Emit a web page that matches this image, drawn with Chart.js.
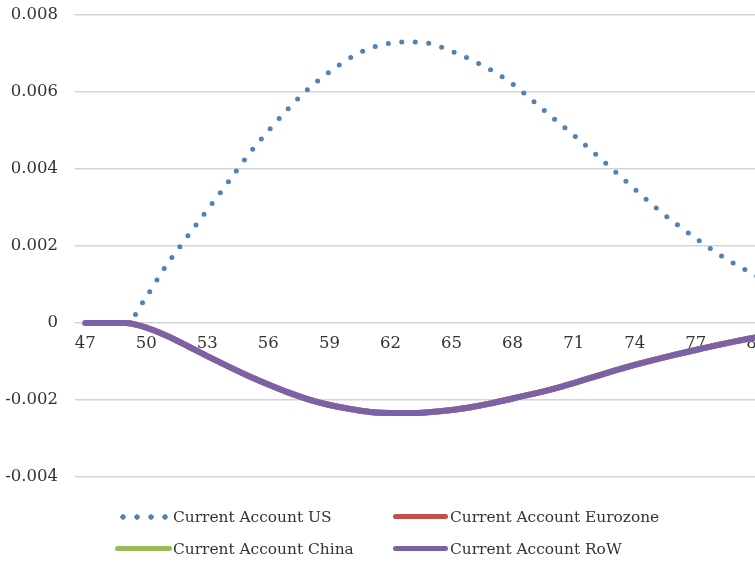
<!DOCTYPE html>
<html>
<head>
<meta charset="utf-8">
<script src="https://cdn.jsdelivr.net/npm/chart.js@4/dist/chart.umd.min.js"></script>
<style>
    html, body { margin: 0; padding: 0; background: #fff; overflow: hidden; }
    #wrap { position: relative; width: 767px; height: 562px; }
    .legend-item { position: absolute; height: 20px; font-family: "DejaVu Serif", serif; font-size: 15.4px; color: #333; line-height: 20px; white-space: nowrap; }
    .swatch { position: absolute; top: 7px; height: 5px; border-radius: 3px; }
    .dots { position: absolute; top: 7px; height: 6px; background: radial-gradient(circle, #4F81BD 2.4px, rgba(255,255,255,0) 3px) 0 0 / 14px 6px repeat-x; }
</style>
</head>
<body>
<div id="wrap">
    <canvas id="ca-chart" width="767" height="562"></canvas>
    <div class="legend-item" style="left:116px; top:507px;"><span class="dots" style="left:0; width:56px;"></span><span style="margin-left:57px;">Current Account US</span></div>
    <div class="legend-item" style="left:393px; top:507px;"><span class="swatch" style="left:0; width:55px; background:#C0504D;"></span><span style="margin-left:57px;">Current Account Eurozone</span></div>
    <div class="legend-item" style="left:115px; top:539px;"><span class="swatch" style="left:0; width:57px; background:#9BBB59;"></span><span style="margin-left:58px;">Current Account China</span></div>
    <div class="legend-item" style="left:393px; top:539px;"><span class="swatch" style="left:0; width:55px; background:#7E60A8;"></span><span style="margin-left:57px;">Current Account RoW</span></div>
</div>
<script>
// periods 47..80
const periods = [47, 48, 49, 50, 51, 52, 53, 54, 55, 56, 57, 58, 59, 60, 61, 62, 63, 64, 65, 66, 67, 68, 69, 70, 71, 72, 73, 74, 75, 76, 77, 78, 79, 80];

const caUS = [0, 0, 0, 0.00068, 0.00151, 0.00223, 0.00294, 0.00364, 0.00436, 0.00499,
    0.00558, 0.0061, 0.00652, 0.00688, 0.00714, 0.00727, 0.0073, 0.00725, 0.00706, 0.00683,
    0.00655, 0.00621, 0.00577, 0.00532, 0.00488, 0.00442, 0.00395, 0.00348, 0.00301, 0.00259,
    0.0022, 0.00183, 0.00151, 0.00122];

// Eurozone and China sit underneath the RoW line in the picture
const caEurozone = [0, 0, 0, -0.00012, -0.00033, -0.00059, -0.00086, -0.00112, -0.00137, -0.0016,
    -0.00181, -0.00199, -0.00213, -0.00223, -0.00231, -0.00234, -0.00234, -0.00231, -0.00226, -0.00218,
    -0.00208, -0.00196, -0.00184, -0.00171, -0.00156, -0.0014, -0.00124, -0.00109, -0.00095, -0.00082,
    -0.0007, -0.00058, -0.00047, -0.00037];

const caChina = [0, 0, 0, -0.00012, -0.00033, -0.00059, -0.00086, -0.00112, -0.00137, -0.0016,
    -0.00181, -0.00199, -0.00213, -0.00223, -0.00231, -0.00234, -0.00234, -0.00231, -0.00226, -0.00218,
    -0.00208, -0.00196, -0.00184, -0.00171, -0.00156, -0.0014, -0.00124, -0.00109, -0.00095, -0.00082,
    -0.0007, -0.00058, -0.00047, -0.00037];

const caRoW = [0, 0, 0, -0.00012, -0.00033, -0.00059, -0.00086, -0.00112, -0.00137, -0.0016,
    -0.00181, -0.00199, -0.00213, -0.00223, -0.00231, -0.00234, -0.00234, -0.00231, -0.00226, -0.00218,
    -0.00208, -0.00196, -0.00184, -0.00171, -0.00156, -0.0014, -0.00124, -0.00109, -0.00095, -0.00082,
    -0.0007, -0.00058, -0.00047, -0.00037];

const yTicks = [-0.004, -0.002, 0, 0.002, 0.004, 0.006, 0.008];

const tickFont = { family: 'DejaVu Serif', size: 16.5 };

const ctx = document.getElementById('ca-chart').getContext('2d');
new Chart(ctx, {
    type: 'line',
    data: {
        labels: periods,
        datasets: [
            {
                label: 'Current Account US',
                data: caUS,
                borderColor: '#4F81BD',
                borderWidth: 5,
                borderDash: [0, 13.5],
                borderCapStyle: 'round',
                order: 1
            },
            {
                label: 'Current Account Eurozone',
                data: caEurozone,
                borderColor: '#C0504D',
                borderWidth: 6,
                order: 4
            },
            {
                label: 'Current Account China',
                data: caChina,
                borderColor: '#9BBB59',
                borderWidth: 6,
                order: 3
            },
            {
                label: 'Current Account RoW',
                data: caRoW,
                borderColor: '#7E60A8',
                borderWidth: 6,
                borderCapStyle: 'round',
                order: 0
            }
        ]
    },
    options: {
        responsive: false,
        animation: false,
        layout: { padding: { top: 15, bottom: 85, left: 0, right: 0 } },
        elements: {
            point: { radius: 0 },
            line: { cubicInterpolationMode: 'monotone', fill: false }
        },
        scales: {
            x: {
                position: { y: 0 },
                offset: true,
                grid: { display: false },
                border: { display: false },
                afterFit: function (scale) {
                    scale.paddingLeft = 0;
                    scale.paddingRight = 0;
                },
                ticks: {
                    autoSkip: false,
                    maxRotation: 0,
                    padding: 3,
                    color: '#333',
                    font: tickFont,
                    callback: function (value, index) {
                        return index % 3 === 0 ? periods[index] : '';
                    }
                }
            },
            y: {
                min: -0.004,
                max: 0.008,
                afterBuildTicks: function (scale) {
                    scale.ticks = yTicks.map(v => ({ value: v }));
                },
                afterFit: function (scale) {
                    scale.width = 75;
                    scale.paddingTop = 0;
                    scale.paddingBottom = 0;
                },
                grid: { color: '#d4d4d4', lineWidth: 1.5, drawTicks: false },
                border: { display: false },
                ticks: {
                    padding: 17,
                    color: '#333',
                    font: tickFont,
                    callback: function (value) {
                        return Math.abs(value) < 1e-9 ? '0' : value.toFixed(3);
                    }
                }
            }
        },
        plugins: {
            legend: { display: false },
            tooltip: { enabled: false }
        }
    }
});
</script>
</body>
</html>
